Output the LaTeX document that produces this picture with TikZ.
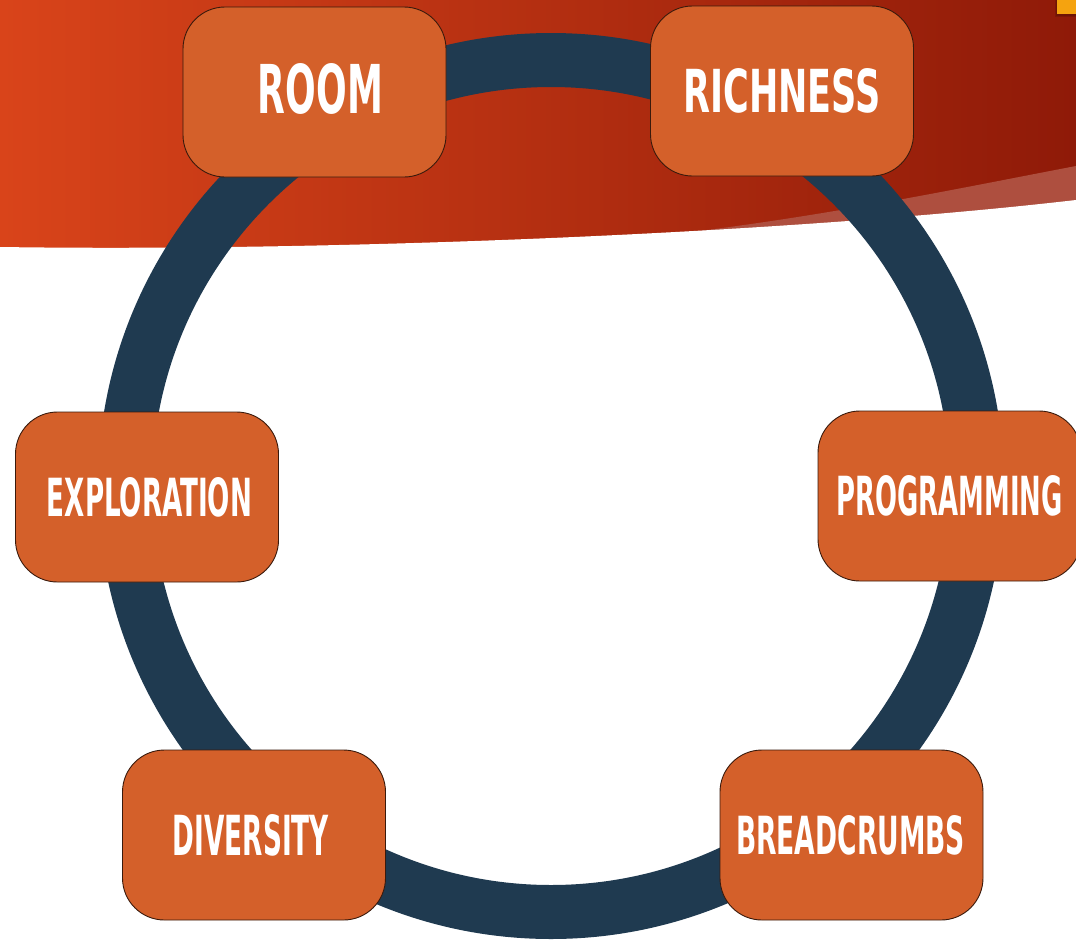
\documentclass[tikz,border=0pt]{standalone}
\usepackage{fontspec}
\usepackage{graphicx}
\newfontfamily\lblfont{DejaVu Sans Condensed}
\definecolor{bannerL}{HTML}{D9441A}
\definecolor{bannerM}{HTML}{C43A15}
\definecolor{bannerR}{HTML}{8F1A08}
\definecolor{stripecol}{HTML}{AE4F3F}
\definecolor{ringcol}{HTML}{1F3A50}
\definecolor{boxfill}{HTML}{D4602A}
\definecolor{boxline}{HTML}{3A1A0C}
\definecolor{accentcol}{HTML}{F5A30F}
\newcommand{\boxlbl}[3]{\resizebox{#1pt}{#2pt}{\lblfont\bfseries #3}}
\tikzset{
  stepbox/.style={draw=boxline, line width=0.9pt, fill=boxfill, rounded corners=42pt,
    minimum width=263pt, minimum height=170pt, inner sep=0pt, text=white},
  ringstyle/.style={draw=ringcol, line width=54pt},
}
\begin{document}
\begin{tikzpicture}[x=1pt,y=-1pt]
\useasboundingbox (0,0) rectangle (1076,943);
\clip (0,0) rectangle (1076,943);
% banner
\shade[left color=bannerL, middle color=bannerM, right color=bannerR] (0,0) rectangle (1076,262);
\fill[stripecol] (620,240) .. controls (800,222) and (950,190) .. (1076,166) -- (1076,262) -- (620,262) -- cycle;
\fill[white] (0,247) .. controls (350,252) and (800,232) .. (1076,200) -- (1076,943) -- (0,943) -- cycle;
% accent square
\fill[black, opacity=0.12] (1055,0) rectangle (1076,17);
\fill[black, opacity=0.12] (1056,0) rectangle (1076,15.5);
\fill[accentcol] (1057,0) rectangle (1076,14);
% ring
\coordinate (ctr) at (551,486);
\draw[ringstyle] (ctr) circle[radius=426pt];
% boxes
\node[stepbox] (room) at (314.5,92) {\raisebox{4pt}[50pt][0pt]{\hspace*{12pt}\boxlbl{125}{50}{ROOM}}};
\node[stepbox] (rich) at (782,91) {\boxlbl{197}{44}{RICHNESS}};
\node[stepbox] (expl) at (147,497) {\hspace*{5pt}\boxlbl{205}{39}{EXPLORATION}};
\node[stepbox] (prog) at (949.5,496) {\boxlbl{226}{40}{PROGRAMMING}};
\node[stepbox] (div) at (254,835) {\boxlbl{156}{41}{DIVERSITY}\hspace*{6pt}};
\node[stepbox] (bread) at (851.5,835) {\boxlbl{229}{39}{BREADCRUMBS}\hspace*{2pt}};
\end{tikzpicture}
\end{document}
